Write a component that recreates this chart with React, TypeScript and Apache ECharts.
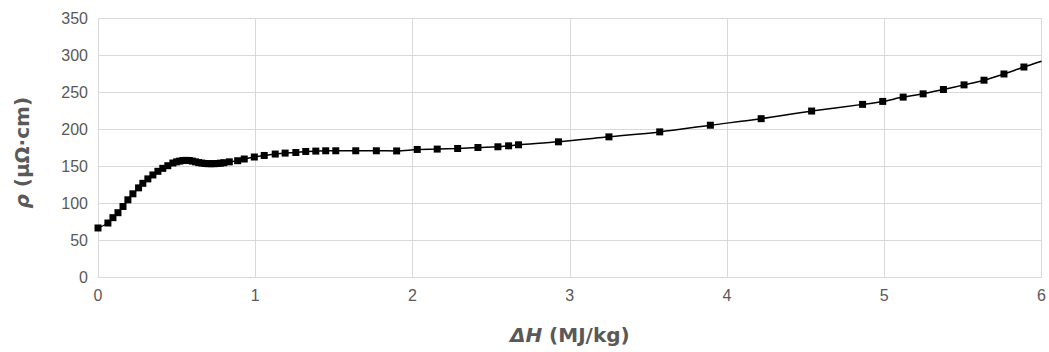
import React, { useEffect, useRef } from "react";
import * as echarts from "echarts";

const xValues = [
  0, 0.063, 0.095, 0.127, 0.159, 0.19, 0.222, 0.258, 0.285, 0.317, 0.349, 0.381, 0.412, 0.444, 0.476,
  0.5, 0.52, 0.54, 0.56, 0.58, 0.6, 0.62, 0.64, 0.66, 0.68, 0.7, 0.72, 0.74, 0.76, 0.78, 0.8,
  0.835, 0.888, 0.93, 0.994, 1.057, 1.127, 1.19, 1.258, 1.321, 1.385, 1.448, 1.512, 1.639, 1.77,
  1.899, 2.03, 2.157, 2.287, 2.416, 2.543, 2.611, 2.674, 2.928, 3.249, 3.572, 3.894, 4.217, 4.538,
  4.862, 4.99, 5.12, 5.247, 5.376, 5.507, 5.634, 5.761, 5.888,
];
const rhoValues = [
  66.8, 73.5, 80.7, 87.4, 95.8, 104.8, 112.9, 120.9, 127, 133, 138.3, 143.2, 147.2, 150.8, 154.4,
  156, 157, 157.8, 158, 157.8, 157, 156, 155, 154.3, 153.8, 153.5, 153.5, 153.5, 153.8, 154.2, 154.8,
  156, 157.5, 159.8, 162.5, 164.6, 166.5, 167.8, 168.6, 170, 170.5, 170.9, 170.9, 170.9, 170.9,
  170.7, 172.7, 173.2, 174, 175.3, 176.3, 177.6, 179, 183, 189.7, 196.4, 205.4, 214.2, 224.5,
  233.5, 237.5, 243.3, 247.7, 253.6, 259.8, 266.1, 274.5, 283.9,
];
// end of the drawn curve (no marker)
const curveEnd = [6, 291.6];

const xTicks = [0, 1, 2, 3, 4, 5, 6];
const yTicks = [0, 50, 100, 150, 200, 250, 300, 350];

export default function App() {
  const ref = useRef<HTMLDivElement>(null);
  useEffect(() => {
    if (!ref.current) return;
    const chart = echarts.init(ref.current, undefined, { renderer: "svg" });
    const data: any[] = xValues.map((x, i) => [x, rhoValues[i]]);
    data.push({ value: curveEnd, symbol: "none" });
    const labelColor = "#595959";
    const gridColor = "#d9d9d9";
    const titleFont = "DejaVu Sans";
    const titleSize = 20;
    const titleStyle = {
      color: labelColor,
      fontFamily: titleFont,
      fontSize: titleSize,
      fontWeight: "bold",
      rich: {
        i: {
          color: labelColor,
          fontFamily: titleFont,
          fontSize: titleSize,
          fontWeight: "bold",
          fontStyle: "italic",
        },
      },
    };
    chart.setOption({
      animation: false,
      backgroundColor: "#ffffff",
      grid: { left: 98, right: 7, top: 18, bottom: 74.5, containLabel: false },
      xAxis: {
        type: "value",
        min: xTicks[0],
        max: xTicks[xTicks.length - 1],
        interval: 1,
        axisLine: { show: true, lineStyle: { color: gridColor, width: 1 } },
        axisTick: { show: false },
        splitLine: { show: true, lineStyle: { color: gridColor, width: 1 } },
        axisLabel: {
          color: labelColor,
          fontFamily: "Liberation Sans",
          fontSize: 16,
          margin: 10,
        },
        name: "{i|ΔH} (MJ/kg)",
        nameLocation: "middle",
        nameGap: 47,
        nameTextStyle: titleStyle,
      },
      yAxis: {
        type: "value",
        min: yTicks[0],
        max: yTicks[yTicks.length - 1],
        interval: 50,
        axisLine: { show: false },
        axisTick: { show: false },
        splitLine: { show: true, lineStyle: { color: gridColor, width: 1 } },
        axisLabel: {
          color: labelColor,
          fontFamily: "Liberation Sans",
          fontSize: 16,
          margin: 10,
        },
        name: "{i|ρ} (μΩ·cm)",
        nameLocation: "middle",
        nameGap: 66,
        nameRotate: 90,
        nameTextStyle: { ...titleStyle, padding: [0, 10, 0, 0] },
      },
      series: [
        {
          type: "line",
          data,
          smooth: 0.3,
          symbol: "rect",
          symbolSize: 7,
          showAllSymbol: true,
          itemStyle: { color: "#000000" },
          lineStyle: { color: "#000000", width: 1.5 },
        },
      ],
    });
    return () => chart.dispose();
  }, []);
  return (
    <div
      ref={ref}
      style={{ position: "fixed", left: 0, top: 0, width: 1049, height: 352, background: "#fff" }}
    />
  );
}
